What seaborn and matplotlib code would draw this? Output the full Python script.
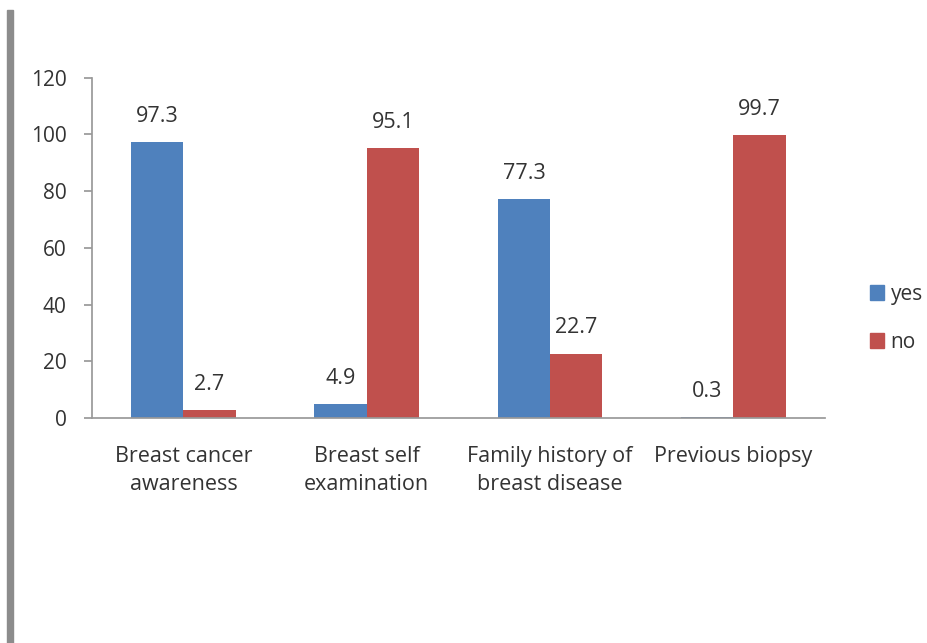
import pandas as pd
import matplotlib.pyplot as plt
import matplotlib.patches as mpatches
import seaborn as sns

categories = ["Breast cancer\nawareness", "Breast self\nexamination",
              "Family history of\nbreast disease", "Previous biopsy"]
yes_vals = [97.3, 4.9, 77.3, 0.3]
no_vals = [2.7, 95.1, 22.7, 99.7]
answers = ["yes", "no"]
colors = ["#4F81BD", "#C0504D"]

df = pd.DataFrame({
    "cat": categories * 2,
    "val": yes_vals + no_vals,
    "ans": ["yes"] * 4 + ["no"] * 4,
})

sns.set_theme(style="white")
plt.rcParams['font.family'] = ['Open Sans', 'DejaVu Sans']

fig = plt.figure(figsize=(9.27, 6.43), dpi=100)
ax = fig.add_axes([0.099, 0.35, 0.791, 0.529])
sns.barplot(data=df, x="cat", y="val", hue="ans", hue_order=answers,
            palette=colors, width=0.57, saturation=1, linewidth=0,
            ax=ax, legend=False)

# value labels
for cont in ax.containers:
    ax.bar_label(cont, fmt="%.1f", padding=11, fontsize=15.5, color="#333333")

ax.set_ylim(0, 120)
ax.set_yticks(range(0, 121, 20))
ax.set_xlim(-0.5, 3.5)
ax.set_xlabel("")
ax.set_ylabel("")
ax.set_xticks(range(4))
ax.set_xticklabels(categories, fontsize=15.5, color="#333333", linespacing=1.45)
ax.set_xticks([-0.5, 0.5, 1.5, 2.5, 3.5], minor=True)
ax.tick_params(axis="x", which="major", length=0, pad=20)
ax.tick_params(axis="x", which="minor", length=6, color="#999999", width=1)
ax.tick_params(axis="y", length=6, color="#999999", labelsize=15,
               labelcolor="#333333", left=True, pad=12)
for s in ["top", "right"]:
    ax.spines[s].set_visible(False)
for s in ["left", "bottom"]:
    ax.spines[s].set_color("#999999")

handles = [mpatches.Patch(color=c, label=a) for a, c in zip(answers, colors)]
fig.legend(handles=handles, loc="center left", bbox_to_anchor=(0.918, 0.505),
           frameon=False, fontsize=15, handlelength=0.7, handleheight=0.7,
           handletextpad=0.3, labelspacing=1.3, labelcolor="#333333")

# gray border strip on the left
fig.patches.append(mpatches.Rectangle((0.008, 0.0), 0.006, 0.985,
                                      transform=fig.transFigure,
                                      color="#8c8c8c", zorder=0))

fig.savefig("out.png", dpi=100)
